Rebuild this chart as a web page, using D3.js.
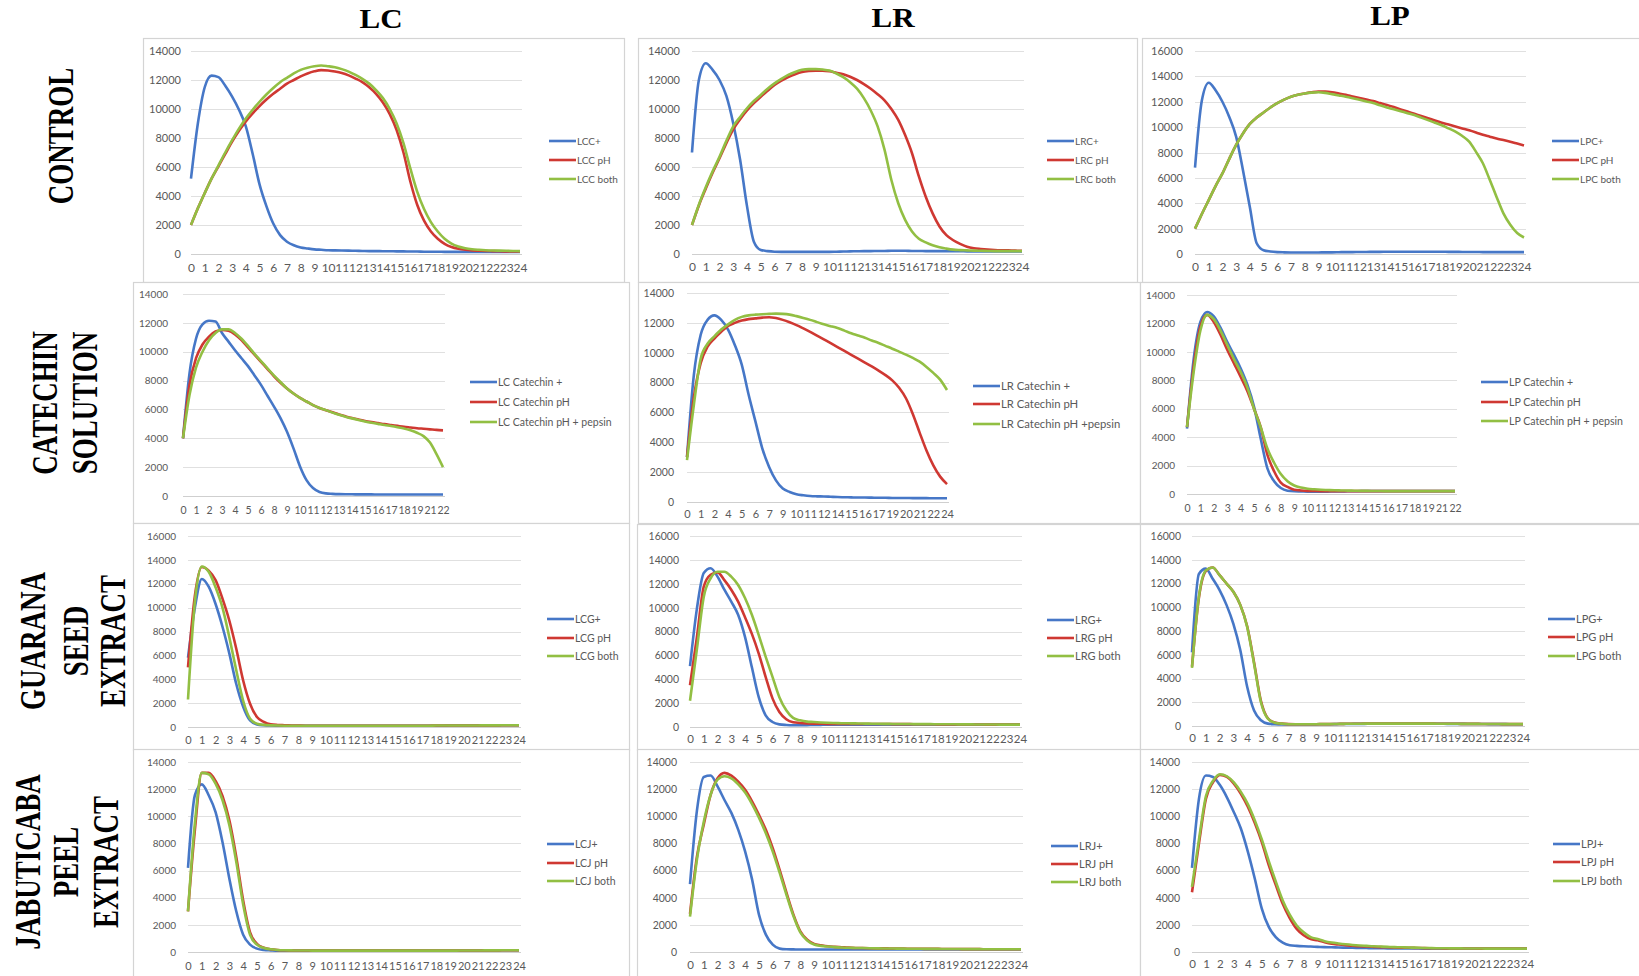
<!DOCTYPE html>
<html><head><meta charset="utf-8">
<script src="https://cdn.jsdelivr.net/npm/d3@7"></script>
<style>body{margin:0;background:#fff} svg{display:block}</style>
</head><body><svg id="c" width="1639" height="976"></svg>
<script>
// ---------- tick labels ----------
const hours24 = ["0","1","2","3","4","5","6","7","8","9","10","11","12","13","14","15","16","17","18","19","20","21","22","23","24"];
const lcCatLabels = ["0","1","2","3","4","5","6","8","9","10","11","12","13","14","15","16","17","18","19","21","22"];
const lrCatLabels = ["0","1","2","4","5","6","7","9","10","11","12","14","15","16","17","19","20","21","22","24"];
const lpCatLabels = ["0","1","2","3","4","5","6","8","9","10","11","12","13","14","15","16","17","18","19","21","22"];
const yTicks14 = [0,2000,4000,6000,8000,10000,12000,14000];
const yTicks16 = [0,2000,4000,6000,8000,10000,12000,14000,16000];

const colTitles = ["LC","LR","LP"];
const rowTitles = [["CONTROL"],["CATECHIN","SOLUTION"],["GUARANA","SEED","EXTRACT"],["JABUTICABA","PEEL","EXTRACT"]];

// series sampled every half category step
// ---------- CONTROL ----------
const lccPlus = [5200,9000,11500,12300,12200,11600,10850,9950,8800,6900,4800,3300,2100,1300,850,600,450,380,320,290,260,250,240,230,220,210,200,200,190,190,180,180,170,170,160,160,160,150,150,150,150,150,150,150,150,150,150,150,150];
const lccPH = [2000,3150,4200,5200,6050,6900,7750,8500,9150,9700,10200,10650,11050,11400,11750,12000,12250,12450,12600,12680,12650,12580,12480,12320,12100,11850,11500,11050,10450,9650,8550,7000,5000,3400,2300,1550,1050,700,480,360,290,250,230,210,200,190,180,175,170];
const lccBoth = [2000,3150,4200,5200,6100,7000,7850,8650,9350,9950,10500,11000,11450,11850,12150,12450,12700,12850,12950,13000,12950,12880,12750,12580,12350,12080,11750,11300,10750,10000,9000,7650,5900,4300,3100,2200,1550,1050,720,520,400,330,290,260,240,230,220,210,200];

const lrcPlus = [7000,12000,13150,12700,12000,10900,9000,6500,3300,850,280,200,160,150,150,150,150,150,150,150,150,160,170,180,190,200,200,210,210,220,220,220,210,210,200,200,200,190,190,190,180,180,180,180,180,180,180,180,180];
const lrcPH = [2000,3350,4500,5600,6600,7650,8600,9300,9900,10400,10850,11250,11650,11950,12200,12400,12550,12620,12650,12650,12600,12500,12400,12220,12000,11720,11400,11020,10600,10000,9250,8200,6950,5350,3950,2800,1900,1300,950,700,500,400,350,310,280,260,250,230,220];
const lrcBoth = [2000,3400,4600,5700,6700,7800,8800,9450,10050,10550,10970,11400,11770,12080,12350,12550,12700,12750,12750,12720,12650,12450,12200,11850,11400,10750,9900,8800,7200,5100,3500,2350,1550,1050,800,600,460,370,300,270,250,230,220,210,200,200,200,200,200];

const lpcPlus = [6800,12100,13500,12900,12000,10800,9250,6600,3700,850,300,200,150,130,120,120,120,120,120,130,130,140,150,150,160,160,170,170,180,180,180,180,180,180,180,180,180,170,170,160,160,160,150,150,150,150,150,150,150];
const lpcPH = [2000,3150,4250,5350,6350,7500,8600,9500,10250,10750,11150,11550,11900,12170,12400,12550,12650,12740,12800,12800,12750,12650,12550,12420,12300,12170,12050,11900,11750,11580,11400,11230,11050,10880,10700,10520,10350,10200,10050,9900,9750,9580,9400,9250,9100,8980,8850,8700,8550];
const lpcBoth = [2000,3150,4250,5350,6350,7500,8600,9500,10250,10750,11150,11550,11900,12170,12400,12550,12650,12720,12750,12700,12600,12500,12400,12280,12150,12020,11900,11720,11550,11400,11250,11100,10950,10750,10550,10350,10150,9900,9650,9300,8850,8050,7150,5850,4500,3200,2300,1650,1300];

// ---------- CATECHIN SOLUTION ----------
const lcCatPlus = [4000,8500,10900,11900,12150,12100,11300,10700,10100,9550,9000,8350,7700,6950,6200,5400,4450,3300,2050,1100,550,280,180,150,130,120,120,110,110,110,100,100,100,100,100,100,100,100,100,100,100];
const lcCatPH = [4000,7700,9550,10500,11050,11400,11500,11450,11200,10800,10300,9800,9300,8800,8300,7850,7450,7100,6800,6550,6300,6100,5950,5800,5650,5520,5400,5300,5200,5120,5050,4980,4920,4860,4800,4750,4700,4660,4620,4580,4550];
const lcCatPepsin = [4000,7000,8900,10000,10800,11300,11550,11550,11300,10900,10400,9850,9350,8850,8350,7900,7450,7100,6800,6550,6300,6100,5950,5780,5630,5500,5380,5270,5170,5080,5000,4920,4850,4770,4680,4550,4380,4150,3700,2900,2000];

const lrCatPlus = [3000,8500,11200,12200,12500,12200,11550,10500,9200,7200,5400,3600,2350,1450,900,670,520,450,400,380,370,350,330,320,310,300,300,290,280,280,270,270,270,260,260,260,250,250,250];
const lrCatPH = [3000,7000,9300,10400,10950,11400,11800,12000,12150,12250,12300,12350,12380,12320,12200,12040,11850,11630,11400,11150,10900,10640,10380,10120,9860,9600,9340,9080,8800,8500,8150,7650,6950,5900,4650,3450,2450,1700,1200];
const lrCatPepsin = [2800,6500,9600,10600,11100,11550,11900,12200,12400,12500,12550,12580,12600,12620,12600,12550,12450,12330,12200,12050,11900,11780,11650,11480,11300,11150,11000,10820,10650,10460,10270,10070,9870,9650,9400,9050,8650,8200,7500];

const lpCatPlus = [4600,9500,12100,12800,12500,11700,10700,9800,8850,7700,6150,3900,1800,900,420,230,190,180,170,170,170,170,180,180,190,190,200,200,200,200,200,200,200,200,200,200,200,200,200,200,200];
const lpCatPH = [4700,9000,11800,12600,12100,11200,10150,9200,8250,7250,6000,4700,2760,1600,800,500,300,250,220,210,200,200,200,200,200,200,200,200,200,200,200,200,200,200,200,200,200,200,200,200,200];
const lpCatPepsin = [4700,8600,11500,12600,12300,11500,10500,9500,8600,7500,6000,4700,3200,2200,1400,900,600,450,370,330,300,280,260,250,240,230,220,220,210,210,200,200,200,200,200,200,200,200,200,200,200];

// ---------- GUARANA SEED EXTRACT ----------
const lcgPlus = [5800,10000,12400,11750,10300,8400,6150,3600,1700,550,220,150,120,110,100,100,100,100,100,100,100,100,100,100,100,100,100,100,100,100,100,100,100,100,100,110,110,110,120,120,120,130,130,130,140,140,150,150,150];
const lcgPH = [5000,11000,13400,13100,12300,10750,8900,6550,3900,1950,840,420,220,170,150,130,120,110,110,110,110,110,110,110,110,110,110,110,110,110,110,110,110,110,110,110,120,120,120,120,130,130,130,140,140,140,150,150,150];
const lcgBoth = [2300,10500,13450,13000,11700,10000,7500,4750,2200,700,280,180,140,120,110,110,110,110,110,110,110,110,110,110,110,110,110,110,110,110,110,110,110,110,110,110,120,120,120,120,130,130,130,140,140,140,150,150,150];

const lrgPlus = [5100,9900,12900,13300,12600,11500,10500,9400,7550,5000,2500,980,420,220,170,150,150,160,170,180,190,190,200,200,200,200,200,200,200,200,200,200,200,200,200,200,200,200,200,200,200,200,200,200,200,200,200,200,200];
const lrgPH = [3500,7500,11750,12750,12950,12300,11500,10500,9200,7800,6150,4200,2400,1250,650,400,340,300,280,270,260,260,250,250,250,250,250,250,250,250,240,240,240,230,230,230,220,220,220,220,210,210,210,200,200,200,200,200,200];
const lrgBoth = [2200,6500,10900,12450,13000,13000,12600,11900,10800,9400,7700,5900,4200,2500,1400,760,560,450,420,380,350,330,320,310,300,290,280,270,260,260,250,250,250,240,240,240,230,230,230,220,220,220,210,210,210,200,200,200,200];

const lpgPlus = [6200,12800,13250,12400,11450,10200,8600,6400,3300,1300,480,200,150,130,130,130,130,140,140,150,150,160,170,170,180,180,190,190,190,190,190,190,190,190,190,190,190,180,180,180,170,170,170,160,160,160,150,150,150];
const lpgPH = [5000,10800,13050,13350,12700,12000,11300,10200,8400,5350,2100,650,290,200,160,150,150,150,150,160,160,170,180,190,190,200,200,200,200,200,200,200,200,200,200,200,190,190,190,180,180,180,170,170,170,160,160,160,160];
const lpgBoth = [4900,10900,13100,13350,12700,12000,11300,10200,8350,5250,2000,620,280,200,150,150,150,150,150,160,160,170,180,190,190,200,200,200,200,200,200,200,200,200,200,200,190,190,190,180,180,180,170,170,170,160,160,160,160];

// ---------- JABUTICABA PEEL EXTRACT ----------
const lcjPlus = [6200,11550,12350,11550,10300,8100,5400,3000,1270,540,250,150,120,100,100,100,100,100,100,100,100,100,100,100,100,100,100,100,100,100,100,100,100,100,100,100,100,100,100,100,110,110,110,120,120,120,130,130,130];
const lcjPH = [3000,9000,13200,13200,12600,11500,9700,7000,3800,1450,600,320,200,150,130,120,110,110,100,100,100,100,100,100,100,100,100,100,100,100,100,100,100,100,100,100,100,100,100,100,110,110,110,120,120,120,130,130,130];
const lcjBoth = [3000,9500,13200,13100,12400,11200,9350,6650,3500,1270,540,300,200,150,130,120,110,110,100,100,100,100,100,100,100,100,100,100,100,100,100,100,100,100,100,100,100,100,100,100,110,110,110,120,120,120,130,130,130];

const lrjPlus = [5000,10400,12900,13000,12200,11200,10250,9000,7400,5350,2750,1280,540,250,200,190,180,180,180,180,180,180,180,180,180,190,190,190,190,190,190,190,190,190,190,190,190,190,190,190,180,180,180,180,180,180,180,180,180];
const lrjPH = [2800,7000,9400,11600,12800,13200,13000,12550,11950,11100,10100,9000,7650,6050,4350,2750,1520,900,600,500,420,380,350,320,300,290,280,270,270,260,250,250,240,240,230,230,230,220,220,220,210,210,210,200,200,200,200,200,200];
const lrjBoth = [2600,6800,9600,11600,12700,12950,12800,12350,11750,10900,9900,8750,7400,5850,4200,2650,1450,850,550,450,400,360,330,310,300,290,280,270,260,260,250,250,240,240,230,230,230,220,220,220,210,210,210,200,200,200,200,200,200];

const lpjPlus = [6200,11300,13000,12900,12300,11400,10300,9100,7400,5400,3200,1850,1100,690,500,450,420,400,380,360,350,330,320,310,300,290,280,280,270,270,260,260,260,250,250,250,250,250,250,250,250,250,250,250,250,250,250,250,250];
const lpjPH = [4400,8000,11300,12500,13050,12900,12400,11650,10700,9500,8100,6400,4950,3550,2500,1700,1230,950,860,720,610,550,500,460,420,400,380,360,350,330,320,310,300,290,280,280,270,270,260,260,260,250,250,250,250,250,250,250,250];
const lpjBoth = [4800,8300,11500,12600,13100,12950,12500,11800,10900,9700,8300,6700,5200,3800,2750,1950,1450,1100,950,800,700,630,570,520,480,450,420,400,380,360,350,330,320,300,290,280,280,270,270,260,260,260,250,250,250,250,250,250,250];

// ---------- panel definitions ----------
const panelData = [
  {labels: hours24, yTicks: yTicks14, names: ["LCC+","LCC pH","LCC both"], series: [lccPlus, lccPH, lccBoth]},
  {labels: hours24, yTicks: yTicks14, names: ["LRC+","LRC pH","LRC both"], series: [lrcPlus, lrcPH, lrcBoth]},
  {labels: hours24, yTicks: yTicks16, names: ["LPC+","LPC pH","LPC both"], series: [lpcPlus, lpcPH, lpcBoth]},
  {labels: lcCatLabels, yTicks: yTicks14, names: ["LC Catechin +","LC Catechin pH","LC Catechin pH + pepsin"], series: [lcCatPlus, lcCatPH, lcCatPepsin]},
  {labels: lrCatLabels, yTicks: yTicks14, names: ["LR Catechin +","LR Catechin pH","LR Catechin pH +pepsin"], series: [lrCatPlus, lrCatPH, lrCatPepsin]},
  {labels: lpCatLabels, yTicks: yTicks14, names: ["LP Catechin +","LP Catechin pH","LP Catechin pH + pepsin"], series: [lpCatPlus, lpCatPH, lpCatPepsin]},
  {labels: hours24, yTicks: yTicks16, names: ["LCG+","LCG pH","LCG both"], series: [lcgPlus, lcgPH, lcgBoth]},
  {labels: hours24, yTicks: yTicks16, names: ["LRG+","LRG pH","LRG both"], series: [lrgPlus, lrgPH, lrgBoth]},
  {labels: hours24, yTicks: yTicks16, names: ["LPG+","LPG pH","LPG both"], series: [lpgPlus, lpgPH, lpgBoth]},
  {labels: hours24, yTicks: yTicks14, names: ["LCJ+","LCJ pH","LCJ both"], series: [lcjPlus, lcjPH, lcjBoth]},
  {labels: hours24, yTicks: yTicks14, names: ["LRJ+","LRJ pH","LRJ both"], series: [lrjPlus, lrjPH, lrjBoth]},
  {labels: hours24, yTicks: yTicks14, names: ["LPJ+","LPJ pH","LPJ both"], series: [lpjPlus, lpjPH, lpjBoth]}
];

// layout (pixel geometry)
const layout = [
  {box:[143,38,624,282], x0:191, x1:520, yT:51, y0:254, yl:181, xl:268, lx:549, ly:[141,160,179], fs:11, xfs:12, lfs:10},
  {box:[638,38,1137,282], x0:692, x1:1022, yT:51, y0:254, yl:680, xl:267, lx:1047, ly:[141,160,179], fs:11, xfs:12, lfs:10},
  {box:[1142,38,1645,282], x0:1195, x1:1524, yT:51, y0:254, yl:1183, xl:267, lx:1552, ly:[141,160,179], fs:11, xfs:12, lfs:10},
  {box:[133,282,629,523], x0:183, x1:443, yT:294, y0:496, yl:168, xl:510, lx:470, ly:[382,402,422], fs:10, xfs:10.5, lfs:10.5},
  {box:[638,282,1140,523], x0:687, x1:947, yT:293, y0:502, yl:674, xl:514, lx:973, ly:[386,404,424], fs:10.5, xfs:11, lfs:11.3},
  {box:[1140,282,1645,523], x0:1187, x1:1455, yT:295, y0:494, yl:1175, xl:508, lx:1481, ly:[382,402,421], fs:10, xfs:10.5, lfs:10.6},
  {box:[133,523,629,750], x0:188, x1:519, yT:536, y0:727, yl:176, xl:740, lx:547, ly:[619,638,656], fs:10, xfs:11, lfs:10.5},
  {box:[637,524,1140,750], x0:690, x1:1020, yT:536, y0:727, yl:679, xl:739, lx:1047, ly:[620,638,656], fs:10.5, xfs:11.5, lfs:11},
  {box:[1140,524,1645,750], x0:1192, x1:1523, yT:536, y0:726, yl:1181, xl:738, lx:1548, ly:[619,637,656], fs:10.5, xfs:11.5, lfs:11},
  {box:[133,749,629,980], x0:188, x1:519, yT:762, y0:952, yl:176, xl:966, lx:547, ly:[844,863,881], fs:10, xfs:11, lfs:10.5},
  {box:[637,749,1140,980], x0:690, x1:1021, yT:762, y0:952, yl:677, xl:965, lx:1051, ly:[846,864,882], fs:10.5, xfs:11.5, lfs:11},
  {box:[1140,749,1645,980], x0:1192, x1:1527, yT:762, y0:952, yl:1180, xl:964, lx:1553, ly:[844,862,881], fs:10.5, xfs:11.5, lfs:11}
];

const colors = ["#4677C7", "#CF3832", "#92BF43"];
const STEP = 0.5;
const svg = d3.select('#c');
const sans = "Lato, 'Liberation Sans', Arial, sans-serif";
const serif = "'Liberation Serif', 'Times New Roman', serif";

panelData.forEach((p, k) => {
  const L = layout[k];
  const g = svg.append('g');
  g.append('rect').attr('x', L.box[0] + 0.5).attr('y', L.box[1] + 0.5)
    .attr('width', L.box[2] - L.box[0]).attr('height', L.box[3] - L.box[1])
    .attr('fill', '#fff').attr('stroke', '#d4d4d4').attr('stroke-width', 1.2);

  const yMax = p.yTicks[p.yTicks.length - 1];
  const x = d3.scaleLinear().domain([0, p.labels.length - 1]).range([L.x0, L.x1]);
  const y = d3.scaleLinear().domain([0, yMax]).range([L.y0, L.yT]);

  // gridlines
  g.append('g').selectAll('line').data(p.yTicks).join('line')
    .attr('x1', L.x0).attr('x2', L.x1 + 2)
    .attr('y1', d => Math.round(y(d)) + 0.5).attr('y2', d => Math.round(y(d)) + 0.5)
    .attr('stroke', d => d === 0 ? '#cfcfcf' : '#e0e0e0').attr('stroke-width', 1);

  // y axis labels
  const ya = g.append('g').attr('transform', `translate(${L.yl},0)`)
    .call(d3.axisLeft(y).tickValues(p.yTicks).tickSize(0).tickPadding(0).tickFormat(d3.format('d')));
  ya.select('.domain').remove();
  ya.selectAll('text').attr('fill', '#595959').style('font-family', sans).style('font-size', L.fs + 'px');

  // x axis labels
  const xa = g.append('g').attr('transform', `translate(0,${L.xl})`)
    .call(d3.axisBottom(x).tickValues(d3.range(p.labels.length)).tickFormat(i => p.labels[i]).tickSize(0).tickPadding(0));
  xa.select('.domain').remove();
  xa.selectAll('text').attr('y', 0).attr('dy', '0.35em').attr('fill', '#595959')
    .style('font-family', sans).style('font-size', L.xfs + 'px');

  // lines
  const line = d3.line().x((d, i) => x(i * STEP)).y(d => y(d)).curve(d3.curveMonotoneX);
  p.series.forEach((s, j) => {
    g.append('path').datum(s).attr('d', line).attr('fill', 'none')
      .attr('stroke', colors[j]).attr('stroke-width', 2.6).attr('stroke-linejoin', 'round');
  });

  // legend
  p.names.forEach((n, j) => {
    g.append('line').attr('x1', L.lx).attr('x2', L.lx + 27).attr('y1', L.ly[j]).attr('y2', L.ly[j])
      .attr('stroke', colors[j]).attr('stroke-width', 2.6);
    g.append('text').attr('x', L.lx + 28).attr('y', L.ly[j]).attr('dy', '0.35em')
      .attr('fill', '#595959').style('font-family', sans).style('font-size', L.lfs + 'px').text(n);
  });
});

// column titles
const titlePos = [[381, 28], [893, 27], [1390, 25]];
colTitles.forEach((t, i) => {
  svg.append('text').attr('transform', `translate(${titlePos[i][0]},${titlePos[i][1]}) scale(1.15,1)`)
    .attr('text-anchor', 'middle').style('font-family', serif).style('font-weight', 'bold')
    .style('font-size', '27px').attr('fill', '#000').text(t);
});

// row titles (rotated)
const rowPos = [
  {cy: 136, bx: [73]},
  {cy: 403, bx: [57, 97]},
  {cy: 641, bx: [45, 88, 124.5]},
  {cy: 862, bx: [40, 77.5, 118]}
];
rowTitles.forEach((lines, r) => {
  lines.forEach((t, j) => {
    svg.append('text')
      .attr('transform', `translate(${rowPos[r].bx[j]},${rowPos[r].cy}) rotate(-90) scale(0.75,1)`)
      .attr('text-anchor', 'middle').style('font-family', serif).style('font-weight', 'bold')
      .style('font-size', '36px').attr('fill', '#000').text(t);
  });
});
</script></body></html>
